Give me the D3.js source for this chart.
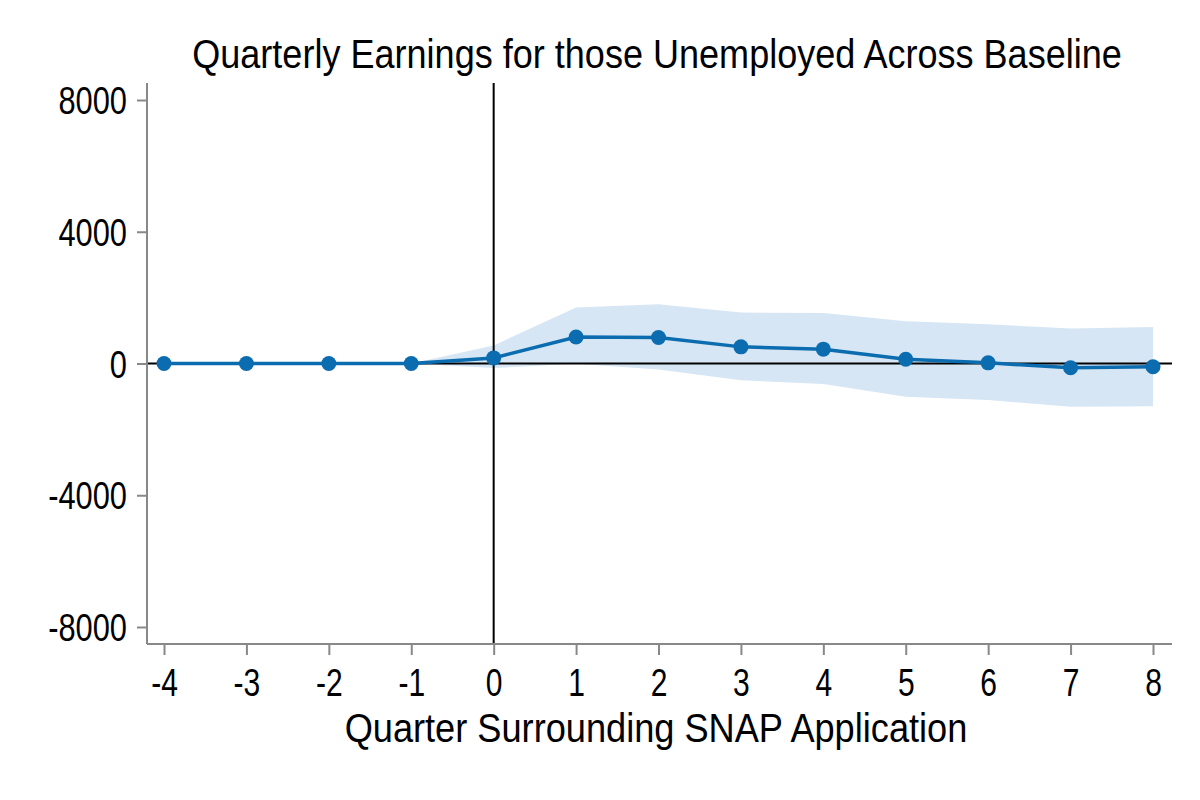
<!DOCTYPE html>
<html>
<head>
<meta charset="utf-8">
<script src="https://cdn.jsdelivr.net/npm/d3@7"></script>
<style>
  body { margin: 0; background: #fff; }
  text { font-family: "Liberation Sans Narrow", "Arial Narrow", "Liberation Sans", Arial, sans-serif; fill: #000; }
</style>
</head>
<body>
<div id="chart"></div>
<script>
// quarters relative to SNAP application
const quarters = [-4, -3, -2, -1, 0, 1, 2, 3, 4, 5, 6, 7, 8];
// point estimates of quarterly earnings
const estimates = [0, 0, 0, 0, 170, 806, 790, 505, 435, 130, 20, -130, -100];
// confidence band (starts at quarter -1)
const bandQuarters = [-1, 0, 1, 2, 3, 4, 5, 6, 7, 8];
const bandUpper = [0, 550, 1700, 1800, 1545, 1535, 1280, 1190, 1060, 1110];
const bandLower = [0, -140, -10, -180, -505, -625, -1010, -1110, -1315, -1295];
const yTicks = [-8000, -4000, 0, 4000, 8000];

const W = 1200, H = 800;
const margin = { top: 83, right: 28, bottom: 156, left: 147 };

const svg = d3.select("#chart").append("svg")
  .attr("width", W).attr("height", H);

const x = d3.scaleLinear().domain([-4, 8]).range([164, 1153]);
const y = d3.scaleLinear().domain([-8000, 8000]).range([627, 100]);

const band = bandQuarters.map((q, i) => ({ q, lo: bandLower[i], hi: bandUpper[i] }));
const pts = quarters.map((q, i) => ({ q, v: estimates[i] }));

// confidence area
svg.append("path")
  .datum(band)
  .attr("fill", "#d6e6f4")
  .attr("d", d3.area().x(d => x(d.q)).y0(d => y(d.lo)).y1(d => y(d.hi)));

// zero line and application quarter line
svg.append("line")
  .attr("x1", margin.left).attr("x2", W - margin.right)
  .attr("y1", y(0)).attr("y2", y(0))
  .attr("stroke", "#000").attr("stroke-width", 2);
svg.append("line")
  .attr("x1", x(0)).attr("x2", x(0))
  .attr("y1", margin.top).attr("y2", H - margin.bottom)
  .attr("stroke", "#000").attr("stroke-width", 2);

// estimate line and markers
svg.append("path")
  .datum(pts)
  .attr("fill", "none")
  .attr("stroke", "#0b6cb0")
  .attr("stroke-width", 3.5)
  .attr("d", d3.line().x(d => x(d.q)).y(d => y(d.v)));

svg.selectAll(".dot")
  .data(pts)
  .enter()
  .append("circle")
  .attr("class", "dot")
  .attr("cx", d => x(d.q))
  .attr("cy", d => y(d.v))
  .attr("r", 7.5)
  .attr("fill", "#0b6cb0");

// axes (plain hyphen for negatives, as in the original)
const fmt = d => String(d);
const yAxis = svg.append("g")
  .attr("transform", `translate(${margin.left},0)`)
  .call(d3.axisLeft(y).tickValues(yTicks).tickSize(10).tickPadding(10).tickSizeOuter(0).tickFormat(fmt));
yAxis.select(".domain").attr("d", `M0,${margin.top}V${H - margin.bottom}`);

const xAxis = svg.append("g")
  .attr("transform", `translate(0,${H - margin.bottom})`)
  .call(d3.axisBottom(x).tickValues(quarters).tickSize(11).tickPadding(14).tickSizeOuter(0).tickFormat(fmt));
xAxis.select(".domain").attr("d", `M${margin.left},0H${W - margin.right}`);

svg.selectAll(".domain, .tick line").attr("stroke", "#888").attr("stroke-width", 2);
yAxis.selectAll("text").style("font-size", "39px").attr("dy", "0.35em");
xAxis.selectAll("text").style("font-size", "38px").attr("dy", "0.72em");

// narrow the tick labels to look like a condensed face
svg.selectAll(".tick text").each(function () {
  const w = this.getComputedTextLength();
  d3.select(this).attr("textLength", w * 0.79).attr("lengthAdjust", "spacingAndGlyphs");
});

// titles, squeezed horizontally to the original's width
function narrowText(cx, cy, size, width, label) {
  const t = svg.append("text")
    .attr("text-anchor", "middle")
    .style("font-size", size + "px")
    .text(label);
  const sx = width / t.node().getComputedTextLength();
  t.attr("transform", `translate(${cx},${cy}) scale(${sx},1)`);
  return t;
}
narrowText(657, 68, 41, 930, "Quarterly Earnings for those Unemployed Across Baseline");
narrowText(656, 742, 40, 623, "Quarter Surrounding SNAP Application");
</script>
</body>
</html>
